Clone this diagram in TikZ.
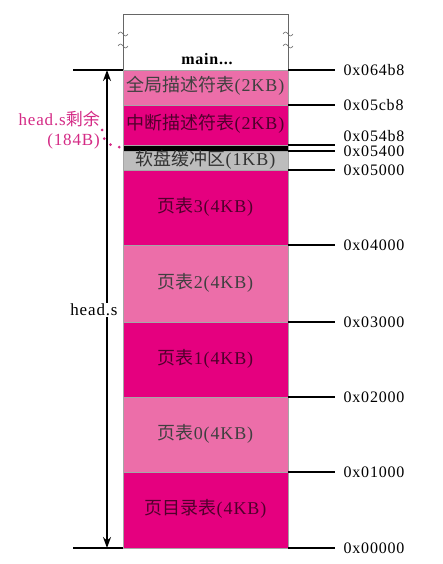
\documentclass[tikz,border=0pt]{standalone}
\usepackage{fontspec}
\setmainfont{Liberation Serif}[LetterSpace=5]
\newfontfamily\cjk{Noto Sans CJK SC}
\usetikzlibrary{arrows.meta,positioning}

\definecolor{deepmag}{HTML}{E5007F}
\definecolor{lightmag}{HTML}{EC6EA9}
\definecolor{bufgray}{HTML}{BDBDBD}
\definecolor{remaincol}{HTML}{D42A85}

\tikzset{
  region/.style={draw=black!35, line width=0.4pt, minimum width=165pt, inner sep=0pt, outer sep=0pt,
    text height=12pt, text depth=3pt, font=\fontsize{18}{18}\selectfont},
  lightreg/.style={region, fill=lightmag, text=black!75},
  deepreg/.style={region, fill=deepmag, text=deepmag!35!black},
  addr/.style={right, inner sep=0pt, xshift=8pt, font=\fontsize{16}{16}\selectfont},
  tick/.style={line width=1.3pt},
  brk/.pic={\draw[black!60, line width=0.6pt] (-5,0) sin (-2.5,-2) cos (0,0) sin (2.5,2) cos (5,0);}
}

\begin{document}
\begin{tikzpicture}[x=1pt, y=-1pt]
  \useasboundingbox (0,0) rectangle (442,564);

  % memory regions, from high address down to 0
  \node[lightreg, minimum height=35pt, anchor=north] (gdt) at (205.5,70) {{\cjk 全局描述符表}(2KB)};
  \node[deepreg, minimum height=40pt, below=0pt of gdt] (idt) {{\cjk 中断描述符表}(2KB)};
  \node[region, fill=black, minimum height=6pt, text height=0pt, text depth=0pt, below=0pt of idt] (band) {};
  \node[region, fill=bufgray, text=black!80, minimum height=19pt, below=0pt of band] (floppy) {{\cjk 软盘缓冲区}(1KB)};
  \node[deepreg, minimum height=75pt, below=0pt of floppy] (pg3) {{\cjk 页表}3(4KB)};
  \node[lightreg, minimum height=77pt, below=0pt of pg3] (pg2) {{\cjk 页表}2(4KB)};
  \node[deepreg, minimum height=75pt, below=0pt of pg2] (pg1) {{\cjk 页表}1(4KB)};
  \node[lightreg, minimum height=75pt, below=0pt of pg1] (pg0) {{\cjk 页表}0(4KB)};
  \node[deepreg, minimum height=76pt, below=0pt of pg0] (pgdir) {{\cjk 页目录表}(4KB)};

  % the rest above head.s
  \draw[black!60, line width=0.6pt] (gdt.north west) -- (123,14) -- (288,14) -- (gdt.north east);
  \pic at (123,34) {brk}; \pic at (123,46) {brk};
  \pic at (288,34) {brk}; \pic at (288,46) {brk};
  \node[font=\bfseries\fontsize{16}{16}\selectfont] (mainpart) at (207,59) {main...};

  % addresses
  \draw[tick] (gdt.north east) -- ++(47,0) node[addr] (a1) {0x064b8};
  \draw[tick] (idt.north east) -- ++(47,0) node[addr] (a2) {0x05cb8};
  \draw[tick] (band.north east) -- ++(47,0) node[addr, yshift=9pt] (a3) {0x054b8};
  \draw[tick] (band.south east) -- ++(47,0) node[addr, yshift=0pt] (a4) {0x05400};
  \draw[tick] (floppy.south east) -- ++(47,0) node[addr] (a5) {0x05000};
  \draw[tick] (pg3.south east) -- ++(47,0) node[addr] (a6) {0x04000};
  \draw[tick] (pg2.south east) -- ++(47,0) node[addr] (a7) {0x03000};
  \draw[tick] (pg1.south east) -- ++(47,0) node[addr] (a8) {0x02000};
  \draw[tick] (pg0.south east) -- ++(47,0) node[addr] (a9) {0x01000};
  \draw[tick] (pgdir.south east) -- ++(47,0) node[addr] (a10) {0x00000};

  % extent of head.s
  \coordinate (ltop) at (73,70);
  \coordinate (lbot) at (73,548);
  \coordinate (atop) at (107,70);
  \coordinate (abot) at (107,548);
  \draw[tick] (ltop) -- (gdt.north west);
  \draw[tick] (lbot) -- (pgdir.south west);
  \draw[tick, {Stealth[length=11pt,width=8pt]}-{Stealth[length=11pt,width=8pt]}] (atop) -- (abot);
  \node[fill=white, inner sep=1pt, font=\fontsize{17}{17}\selectfont] (heads) at (94,310) {head.s};

  % space left over
  \node[text=remaincol, align=right, anchor=east, inner sep=0pt, font=\fontsize{17}{20}\selectfont] (remain) at (100,130) {head.s{\cjk 剩余}\\(184B)};
  \draw[remaincol, line width=3pt, line cap=round, dash pattern=on 0pt off 9pt] ([xshift=2pt]remain.east) .. controls (105,144) .. (band.west);
\end{tikzpicture}
\end{document}
